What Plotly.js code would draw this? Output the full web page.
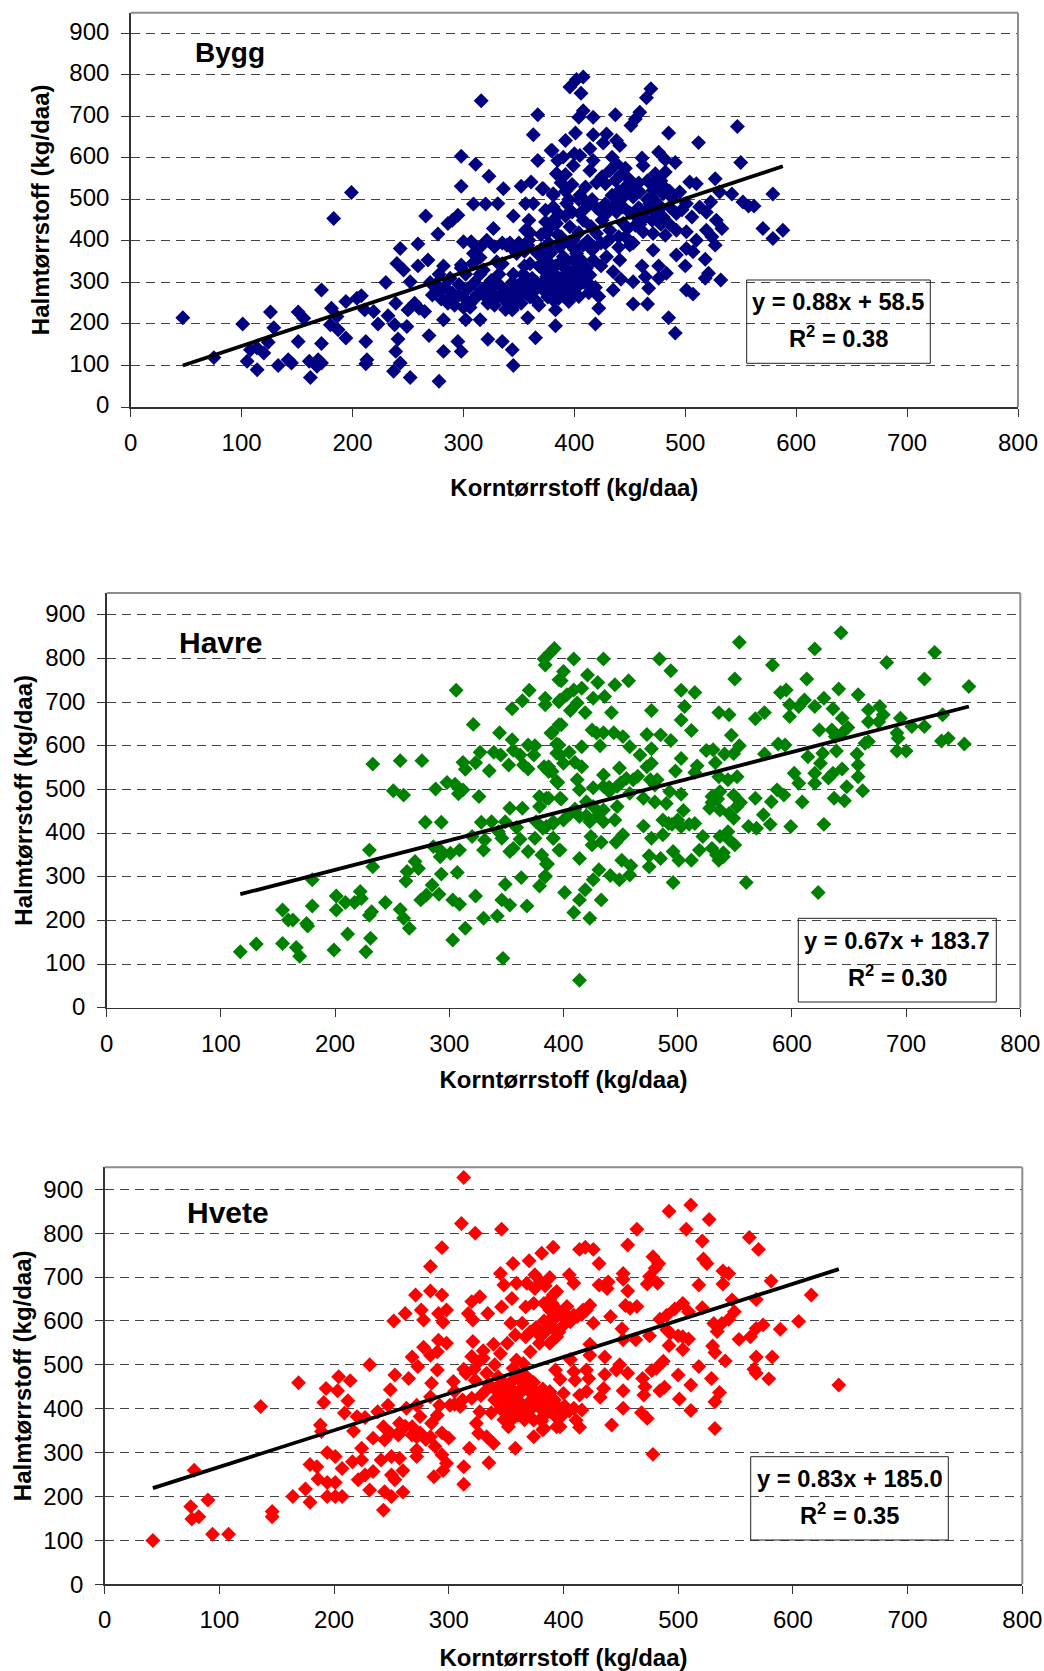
<!DOCTYPE html>
<html><head><meta charset="utf-8">
<script src="https://cdn.plot.ly/plotly-3.0.1.min.js"></script>
<style>html,body{margin:0;padding:0;background:#fff}#c{width:1044px;height:1671px}</style>
</head><body><div id="c"></div>
<script>
const xTicks=[0,100,200,300,400,500,600,700,800];
const yTicks=[0,100,200,300,400,500,600,700,800,900];
const xTitle="Korntørrstoff (kg/daa)";
const yTitle="Halmtørrstoff (kg/daa)";
const names=["Bygg","Havre","Hvete"];
const equations=["y = 0.88x + 58.5","y = 0.67x + 183.7","y = 0.83x + 185.0"];
const r2Labels=["R<sup>2</sup> = 0.38","R<sup>2</sup> = 0.30","R<sup>2</sup> = 0.35"];
const colors=["#000080","#008000","#ff0000"];
const byggTrendX=[47,588], byggTrendY=[100,580];
const havreTrendX=[117,755], havreTrendY=[260,690];
const hveteTrendX=[42,640], hveteTrendY=[219,718];
const bygg=[[47,215],[75,119],[101,200],[105,110],[114,90],[126,229],[129,191],[124,156],[108,138],[114,142],[120,130],[133,100],[142,114],[145,106],[151,158],[151,229],[156,214],[162,71],[161,110],[169,114],[172,106],[168,98],[172,153],[172,282],[181,238],[186,218],[180,198],[187,186],[194,166],[194,254],[204,262],[208,268],[211,234],[219,230],[223,200],[212,158],[213,114],[212,104],[230,300],[232,220],[238,198],[249,194],[241,164],[239,134],[243,106],[237,86],[252,71],[278,62],[282,134],[295,158],[298,134],[269,172],[282,210],[302,210],[315,210],[322,163],[335,158],[344,138],[345,100],[344,234],[358,215],[365,167],[383,234],[383,196],[239,250],[250,234],[256,250],[265,230],[260,238],[243,382],[259,393],[266,460],[277,417],[268,354],[259,340],[240,346],[246,330],[252,302],[183,454],[199,517],[286,442],[295,462],[290,450],[298,532],[298,604],[311,585],[323,556],[336,526],[309,489],[320,489],[331,490],[345,460],[327,430],[352,532],[361,542],[371,526],[316,738],[367,704],[363,656],[379,618],[367,594],
[270,300],[272,270],[276,282],[280,260],[283,290],[286,250],[288,310],[290,275],[292,245],[296,295],[298,335],[300,265],[302,320],[304,285],[306,250],[306,240],[308,345],[310,300],[312,270],[315,360],[318,330],[320,290],[322,250],[325,305],[326,275],[328,245],[330,350],[332,320],[334,290],[336,260],[338,235],[340,390],[342,395],[345,320],[347,285],[348,265],[350,395],[352,300],[355,340],[356,275],[358,390],[360,420],[362,310],[364,280],[366,255],[368,245],[368,340],[370,380],[370,415],[372,300],[300,398],[307,398],[298,342],[309,370],[321,402],[328,386],[339,390],[350,390],[359,402],[356,426],[359,450],[356,490],[363,490],[374,446],[374,474],[381,510],[384,562],[385,594],[278,320],[282,340],
[408,795],[402,789],[396,771],[406,756],[469,767],[465,745],[408,714],[404,698],[417,698],[437,704],[459,710],[455,694],[451,678],[401,660],[417,656],[429,658],[485,660],[512,637],[547,676],[426,636],[438,642],[441,630],[392,642],[380,618],[414,622],[405,606],[390,602],[399,582],[417,594],[434,602],[438,586],[461,600],[462,582],[476,614],[482,596],[491,589],[550,589],[527,550],[504,542],[510,538],[542,513],[531,518],[552,494],[557,484],[562,484],[579,513],[570,430],[588,426],[579,406],[533,430],[527,390],[523,494],[513,482],[519,469],[506,458],[528,450],[501,490],[495,518],[482,566],[473,562],[474,530],[459,518],[449,550],[437,546],[414,570],[398,536],[384,562],[381,514],[372,526],[432,570],[428,538],[411,482],[405,466],[393,490],[381,482],[429,466],[444,482],[453,506],[471,522],[480,514],[486,482],[492,466],[480,458],[465,474],[456,458],[444,442],[432,426],[420,418],[408,450],[396,434],[384,442],[375,418],[399,402],[387,386],[501,422],[510,402],[519,426],[524,410],[492,426],[482,414],[471,418],[462,422],[471,378],[450,390],[492,366],[501,382],[507,374],[518,356],[500,340],[476,340],[461,340],[464,314],[483,322],[476,310],[521,322],[518,310],[532,306],[501,282],[507,272],[453,302],[442,308],[435,282],[467,286],[419,288],[422,266],[404,266],[395,254],[453,248],[466,248],[422,238],[485,215],[491,178],[419,200],[441,354],[429,362],[417,354],[435,326],[408,322],[414,318],[399,354],[390,338],[384,314],[393,306],[378,290],[387,282],[396,298],[402,370],[390,362],[378,346],[375,314],[372,282],
[385,300],[380,325],[388,350],[392,320],[398,285],[400,330],[404,345],[382,275],[376,265],[386,262],[394,272],[401,310],[408,340],[412,300],[416,378],[424,395],[440,410],[448,430],[470,450],[475,490],[488,505],[497,475],[466,500],[445,515],[470,535],[458,480],[472,470],[410,530],[405,510],[420,480],[425,450],[438,470],[415,435],[450,468],[442,500],[435,480],[478,440],[486,440],[455,438],[425,555],[400,610],[392,560],[395,500],[408,390],[385,415],[377,395],[371,360],[366,372],[360,345],[348,370],[335,345],[315,320],
[372,330],[374,355],[376,300],[379,372],[381,258],[383,340],[386,310],[389,295],[391,345],[394,330],[397,265],[399,320],[403,290],[406,355],[409,300],[411,335],[413,275],[400,380],[395,395],[388,410],[404,420],[412,400],[418,385],[424,340],[428,395],[432,405],[440,385],[446,410],[453,395],[459,440],[463,455],[468,490],[470,505],[476,475],[481,530],[486,520],[478,545],[466,545],[458,540],[452,525],[446,530],[440,520],[434,510],[438,500],[428,490],[424,470],[416,500],[410,495],[404,500],[398,470],[392,460],[386,465],[381,450],[377,430],[392,520],[388,540],[446,575],[442,560],[420,540],
[330,300],[338,280],[344,300],[350,280],[354,320],[358,295],[342,270],[334,270],[326,290],[316,280],[310,260],[320,265],[360,265],[366,300],[352,250],[340,250],[346,245],[328,260],[300,240],[296,270],[288,265],[280,280],[275,295],[315,385],[335,395],[345,380],[355,375]];
const havre=[[117,128],[131,146],[154,147],[166,138],[169,118],[199,132],[227,128],[231,159],[211,169],[176,187],[175,193],[163,201],[159,201],[154,224],[180,233],[180,293],[201,256],[201,224],[209,241],[217,241],[222,266],[223,250],[230,212],[232,220],[244,241],[230,361],[233,323],[257,225],[260,205],[265,182],[263,312],[262,290],[270,335],[273,319],[275,247],[280,258],[285,281],[291,260],[279,425],[293,425],[286,369],[292,361],[292,346],[301,354],[309,361],[293,306],[307,310],[303,247],[309,237],[303,155],[314,182],[323,256],[330,205],[342,210],[347,113],[346,247],[353,235],[368,233],[349,283],[363,298],[379,279],[384,302],[386,329],[330,361],[331,384],[320,392],[353,358],[356,365],[362,386],[369,358],[375,388],[381,350],[391,388],[346,388],[343,403],[328,425],[337,426],[349,426],[359,413],[353,457],[364,457],[379,461],[379,484],[387,480],[376,426],[385,415],[391,426],[233,558],[257,566],[276,566],[251,497],[260,487],[288,501],[298,516],[305,512],[308,490],[312,499],[326,484],[306,727],[321,649],[355,685],[364,703],[370,727],[384,709],[384,694],[344,630],[355,614],[369,602],[375,600],[390,630],[327,585],[312,562],[314,546],[323,561],[335,543],[339,585],[345,579],[352,556],[356,590],[362,579],[365,556],[369,547],[374,579],[383,552],[387,541],[394,583],[394,518],[383,799],[388,812],[392,823],[384,785],[396,751],[396,701],[396,648],[396,602],[397,480],[397,361],
[409,799],[435,799],[400,770],[398,749],[421,762],[430,745],[445,740],[457,749],[484,799],[494,772],[554,837],[550,753],[583,785],[620,822],[643,859],[683,791],[725,814],[716,753],[755,736],[613,753],[641,730],[658,717],[595,728],[590,722],[503,727],[515,722],[416,732],[409,728],[403,717],[397,705],[426,709],[436,713],[412,698],[406,681],[419,676],[442,676],[477,681],[506,690],[503,659],[512,635],[536,676],[545,671],[568,662],[576,676],[598,694],[606,690],[611,705],[620,690],[628,709],[636,685],[598,667],[644,663],[649,642],[667,682],[677,690],[680,671],[667,655],[676,655],[695,663],[705,644],[716,644],[732,671],[692,629],[693,617],[731,611],[737,617],[751,604],[692,588],[700,588],[667,610],[664,606],[624,636],[635,636],[638,621],[644,629],[639,588],[657,581],[627,583],[614,575],[625,560],[658,556],[658,529],[602,537],[606,514],[620,537],[620,514],[632,526],[636,537],[644,547],[648,506],[662,497],[637,480],[646,474],[609,471],[587,499],[593,487],[582,472],[568,480],[628,420],[599,415],[581,420],[562,415],[569,411],[575,442],[623,264],[560,287],[496,287],[414,63],[423,205],[409,218],[433,247],[401,264],[414,247],[419,270],[426,293],[431,316],[414,342],[441,303],[449,293],[458,304],[459,325],[451,338],[396,361],[385,329],[384,300],[446,379],[452,396],[433,379],[424,392],[425,373],[470,416],[477,388],[475,348],[475,323],[485,342],[496,358],[501,338],[512,338],[519,361],[522,392],[515,422],[503,415],[492,422],[487,396],[534,350],[536,338],[540,346],[550,373],[537,392],[544,403],[528,457],[530,484],[537,495],[549,487],[552,461],[549,434],[537,453],[505,452],[490,468],[480,471],[503,489],[493,495],[470,480],[461,522],[449,549],[435,533],[435,507],[426,504],[447,507],[458,491],[476,522],[482,522],[477,560],[473,552],[467,579],[458,598],[452,621],[444,630],[435,630],[429,629],[425,636],[473,626],[485,625],[494,612],[477,593],[503,571],[498,542],[517,554],[515,539],[525,589],[531,591],[533,561],[541,581],[554,600],[547,624],[549,582],[552,529],[544,522],[536,529],[576,581],[588,604],[594,602],[416,598],[410,562],[416,552],[412,522],[414,499],[394,604],[397,579],[389,629],[398,648],[387,552],[390,541],[395,516],[398,478],[385,480],[426,461],[420,472],[435,453],[447,461],[414,438],[423,426],[435,426],[445,430],[406,445],[391,422],[391,388],[382,411],
[420,440],[410,455],[430,440],[400,430],[440,505],[450,515],[455,525],[465,530],[440,495],[405,585],[400,560],[480,510],[487,430],[495,420],[510,420],[500,430],[530,470],[535,478],[545,445],[555,470],[540,355],[530,365],[545,385],[432,600]];
const hvete=[[42,100],[75,177],[90,192],[82,154],[76,149],[78,260],[94,114],[108,114],[146,166],[146,154],[136,405],[169,459],[164,200],[175,217],[179,187],[179,273],[185,268],[186,240],[194,232],[201,232],[194,200],[201,200],[207,200],[194,300],[201,291],[188,363],[189,348],[191,414],[193,446],[204,473],[203,441],[214,464],[212,418],[209,390],[217,349],[220,382],[227,380],[238,393],[207,264],[216,279],[224,310],[224,283],[221,238],[227,249],[231,215],[234,257],[234,333],[243,169],[244,211],[250,200],[260,210],[241,283],[250,291],[257,287],[250,249],[253,238],[260,259],[231,500],[249,443],[247,408],[253,477],[252,600],[262,617],[271,659],[276,625],[278,602],[284,724],[284,668],[294,767],[294,659],[291,617],[298,625],[295,597],[291,556],[298,549],[268,518],[265,469],[273,496],[284,522],[290,488],[285,458],[284,427],[292,408],[272,408],[263,401],[275,382],[257,367],[268,359],[243,359],[249,344],[244,329],[256,340],[272,336],[285,367],[284,336],[288,314],[300,333],[272,306],[272,291],[294,295],[298,276],[295,259],[287,245],[313,268],[313,228],[318,310],[335,277],[358,310],[352,359],[374,336],[383,355],[394,359],[339,321],[333,336],[326,344],[324,367],[304,462],[313,490],[301,408],[310,405],[320,424],[327,393],[337,391],[323,465],[320,519],[321,553],[330,532],[339,547],[345,526],[326,507],[333,481],[343,473],[333,443],[349,439],[356,492],[359,511],[371,530],[365,503],[371,465],[353,427],[362,435],[372,420],[353,382],[362,397],[374,374],[385,389],[388,435],[379,416],[394,405],[321,602],[317,617],[320,644],[327,655],[334,617],[354,595],[346,632],[355,651],[351,549],[358,568],[367,564],[364,595],[367,632],[374,640],[368,686],[359,686],[348,682],[345,708],[375,705],[388,699],[375,674],[356,731],[370,737],[381,754],[391,768],[346,809],[323,800],[311,822],[313,927],[391,659],[388,625],[391,602],[383,572],[388,549],[379,549],[394,564],
[511,864],[492,850],[527,831],[464,809],[507,809],[562,790],[570,763],[521,782],[456,773],[414,763],[419,768],[426,763],[431,731],[478,746],[483,731],[480,720],[522,741],[525,731],[539,714],[544,708],[452,708],[452,695],[405,705],[409,686],[431,682],[439,689],[438,674],[475,701],[473,684],[482,686],[518,682],[539,684],[581,691],[456,668],[616,659],[568,649],[547,648],[394,667],[388,648],[403,633],[423,636],[417,625],[409,613],[406,598],[400,610],[391,610],[426,595],[441,610],[454,635],[458,629],[464,633],[451,582],[504,640],[497,627],[490,613],[484,604],[509,621],[521,630],[549,621],[544,604],[531,594],[538,594],[534,576],[574,591],[568,583],[563,564],[553,558],[589,581],[605,599],[490,580],[493,572],[463,557],[475,566],[452,557],[423,547],[504,564],[509,559],[500,566],[492,544],[504,535],[530,543],[532,528],[541,509],[568,518],[582,518],[518,496],[436,518],[423,522],[406,512],[487,508],[481,492],[477,487],[449,500],[446,488],[456,481],[436,478],[420,488],[409,484],[393,488],[397,467],[410,465],[422,469],[469,469],[500,477],[529,469],[566,490],[568,481],[579,468],[640,454],[511,454],[471,450],[488,449],[484,441],[452,441],[435,446],[420,439],[414,431],[432,426],[470,431],[536,437],[532,416],[501,422],[388,439],[382,420],[452,401],[511,396],[468,391],[473,378],[416,397],[409,401],[401,406],[394,405],[388,401],[382,382],[398,382],[397,359],[411,374],[414,358],[442,363],[532,355],[478,296],[382,352],
[345,440],[350,415],[356,400],[360,420],[365,450],[368,405],[370,395],[376,440],[380,400],[345,400],[352,455],[358,470],[365,480],[340,420],[348,460],[355,445],[363,410],[372,405],[378,430],[386,420],
[342,425],[350,395],[357,415],[352,410],[360,385],[366,395],[370,440],[374,460],[382,445],[345,455],[340,445],[362,465],[355,375],[348,375],[366,375],[381,372],[392,385],[398,400],[405,395],[400,435],[392,420],[371,575],[376,585],[383,600],[388,590],[380,565],[383,640],[390,640],[395,625],[400,620],[412,610],[416,615],[420,625],[400,590],[396,575],[392,580],[380,690],[384,680],[340,500],[330,515],[322,490],[315,480],[305,440],[312,420],[335,455],[328,430],[280,330],[275,345],[268,340],[262,360],[258,350],[290,385],[294,345],[305,410],[290,530],[278,540]];
const series=[
 {pts:bygg,tx:byggTrendX,ty:byggTrendY},
 {pts:havre,tx:havreTrendX,ty:havreTrendY},
 {pts:hvete,tx:hveteTrendX,ty:hveteTrendY}];
const W=1044,H=1671;
const frames=[{l:130.7,r:1018,t:12.7,b:407,xs:6,ys:7,xts:24,yts:13,shift:-2,name:[192.5,52,28],box:[746.7,930.3,280,363.3],ly:[302,337]},
 {l:106.7,r:1020.3,t:593,b:1007.7,xs:6,ys:7,xts:15,yts:6,shift:-1,name:[177,642.7,30],box:[798.3,996.3,918.3,1002],ly:[941,976]},
 {l:104.7,r:1022.3,t:1167.3,b:1584.3,xs:5,ys:7,xts:20,yts:5,shift:0,name:[185,1212.7,30],box:[750.7,948.3,1456.7,1540],ly:[1479,1514]}];
const font="'Liberation Sans',Arial,sans-serif";
const px=x=>x/W, py=y=>1-y/H;
const data=[],layout={width:W,height:H,margin:{l:0,r:0,t:0,b:0},paper_bgcolor:"#fff",plot_bgcolor:"#fff",showlegend:false,font:{family:font,color:"#000"},shapes:[],annotations:[]};
frames.forEach((f,i)=>{
 const s=i?String(i+1):"";
 data.push({x:series[i].pts.map(p=>p[0]),y:series[i].pts.map(p=>p[1]),xaxis:"x"+s,yaxis:"y"+s,type:"scatter",mode:"markers",name:names[i],
   marker:{symbol:"diamond",size:11.5,color:colors[i],line:{width:0}},hoverinfo:"x+y"});
 data.push({x:series[i].tx,y:series[i].ty,xaxis:"x"+s,yaxis:"y"+s,type:"scatter",mode:"lines",name:names[i]+" trend",line:{color:"#000",width:3.8},hoverinfo:"skip"});
 layout["xaxis"+s]={domain:[px(f.l),px(f.r)],anchor:"y"+s,range:[0,800],tickvals:xTicks,ticks:"outside",ticklen:8,tickwidth:1,tickcolor:"#333",showgrid:false,zeroline:false,showline:true,linecolor:"#333",linewidth:1.5,tickfont:{size:24,family:font,color:"#000"},ticklabelstandoff:f.xs,
   title:{text:xTitle,font:{size:24,family:font,color:"#000",weight:700},standoff:f.xts}};
 layout["yaxis"+s]={domain:[py(f.b),py(f.t)],anchor:"x"+s,range:[0,950],tickvals:yTicks,ticks:"outside",ticklen:8,tickwidth:1,tickcolor:"#333",showgrid:true,gridcolor:"#444",gridwidth:1,griddash:"9px,6px",zeroline:false,showline:true,linecolor:"#333",linewidth:1.5,tickfont:{size:24,family:font,color:"#000"},ticklabelstandoff:f.ys,ticklabelshift:f.shift,
   title:{text:yTitle,font:{size:24,family:font,color:"#000",weight:700},standoff:f.yts}};
 layout.shapes.push({type:"line",xref:"paper",yref:"paper",x0:px(f.l),x1:px(f.r),y0:py(f.t),y1:py(f.t),line:{color:"#8c8c8c",width:2}});
 layout.shapes.push({type:"line",xref:"paper",yref:"paper",x0:px(f.r),x1:px(f.r),y0:py(f.t),y1:py(f.b),line:{color:"#8c8c8c",width:2}});
 layout.shapes.push({type:"rect",xref:"paper",yref:"paper",x0:px(f.box[0]),x1:px(f.box[1]),y0:py(f.box[2]),y1:py(f.box[3]),line:{color:"#222",width:1},fillcolor:"rgba(0,0,0,0)"});
 const cx=(f.box[0]+f.box[1])/2;
 const bold=sz=>({size:sz,family:font,color:"#000",weight:700});
 layout.annotations.push({xref:"paper",yref:"paper",x:px(f.name[0]),y:py(f.name[1]),xanchor:"left",yanchor:"middle",showarrow:false,text:names[i],font:bold(f.name[2])});
 layout.annotations.push({xref:"paper",yref:"paper",x:px(cx),y:py(f.ly[0]),xanchor:"center",yanchor:"middle",showarrow:false,text:equations[i],font:bold(23.7)});
 layout.annotations.push({xref:"paper",yref:"paper",x:px(cx),y:py(f.ly[1]),xanchor:"center",yanchor:"middle",showarrow:false,text:r2Labels[i],font:bold(23.7)});
});
Plotly.newPlot("c",data,layout,{displayModeBar:false,staticPlot:true});
</script></body></html>
